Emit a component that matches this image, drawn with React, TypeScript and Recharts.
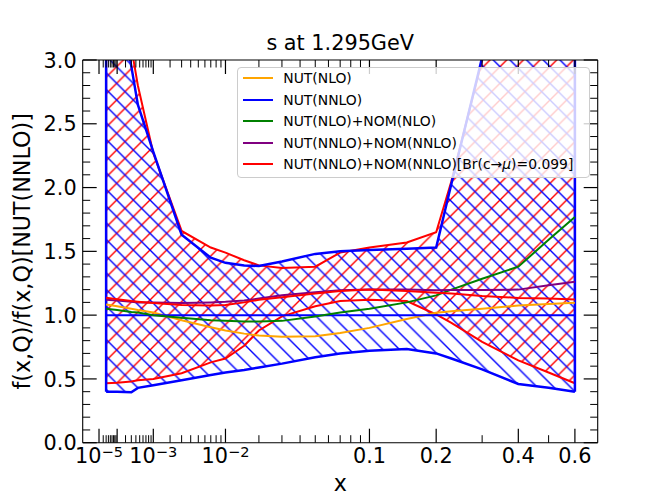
import React from 'react';
import {
  ComposedChart,
  Area,
  Line,
  XAxis,
  YAxis,
  ReferenceLine,
  Customized,
} from 'recharts';

// x grid of the PDF ratios
const X_POINTS = [3e-5, 1e-4, 3e-4, 4.5e-4, 1e-3, 3e-3, 7e-3, 0.01, 0.015, 0.02, 0.03, 0.05, 0.07, 0.1, 0.15, 0.2, 0.23, 0.3, 0.4, 0.5, 0.6];

// NUT(NNLO) uncertainty band
const NNLO_LOW = [0.4, 0.4, 0.395, 0.43, 0.45, 0.49, 0.53, 0.55, 0.57, 0.59, 0.62, 0.67, 0.7, 0.72, 0.735, 0.7, 0.66, 0.575, 0.46, 0.43, 0.4];
const NNLO_HIGH = [4.0, 3.6, 2.95, 2.65, 2.28, 1.63, 1.45, 1.41, 1.39, 1.385, 1.42, 1.48, 1.5, 1.51, 1.52, 1.53, 2.03, 3.02, 3.5, 3.5, 3.5];

// NUT(NNLO)+NOM(NNLO)[Br] uncertainty band
const BR_LOW = [0.466, 0.47, 0.48, 0.49, 0.5, 0.545, 0.63, 0.66, 0.76, 0.88, 0.99, 1.07, 1.11, 1.12, 1.11, 1.005, 0.94, 0.79, 0.645, 0.55, 0.466];
const BR_HIGH = [4.5, 4.0, 3.1, 2.8, 2.27, 1.66, 1.53, 1.49, 1.43, 1.39, 1.37, 1.38, 1.49, 1.53, 1.57, 1.65, 2.05, 3.0, 3.5, 3.5, 3.5];

// central values
const NUT_NLO = [1.083, 1.07, 1.05, 1.04, 1.02, 0.96, 0.905, 0.88, 0.855, 0.84, 0.83, 0.835, 0.86, 0.9, 0.97, 1.018, 1.03, 1.05, 1.076, 1.088, 1.097];
const NUT_NNLO = [1, 1, 1, 1, 1, 1, 1, 1, 1, 1, 1, 1, 1, 1, 1, 1, 1, 1, 1, 1, 1];
const NOM_NLO = [1.05, 1.04, 1.025, 1.02, 1.0, 0.98, 0.96, 0.955, 0.95, 0.95, 0.955, 0.99, 1.02, 1.05, 1.1, 1.155, 1.2, 1.285, 1.38, 1.59, 1.77];
const NOM_NNLO = [1.12, 1.115, 1.105, 1.1, 1.1, 1.095, 1.1, 1.105, 1.115, 1.13, 1.155, 1.18, 1.195, 1.2, 1.2, 1.196, 1.197, 1.198, 1.2, 1.234, 1.262];
const NOM_BR = [1.136, 1.125, 1.11, 1.105, 1.095, 1.08, 1.075, 1.08, 1.1, 1.12, 1.14, 1.17, 1.19, 1.2, 1.19, 1.176, 1.17, 1.15, 1.135, 1.13, 1.123];

// axis ticks
const X_MAJOR = [1e-5, 1e-4, 1e-3, 1e-2, 0.1, 0.2, 0.4, 0.6];
const X_MAJOR_LABELS = ['10^−5', '', '10^−3', '10^−2', '0.1', '0.2', '0.4', '0.6'];
const MINOR_DECADES = [1e-5, 1e-4, 1e-3, 1e-2];
const MINOR_MANTISSAS = [2, 3, 4, 5, 6, 7, 8, 9];
const X_MINOR_EXTRA = [0.3, 0.5];
const Y_MAJOR = [0, 0.5, 1, 1.5, 2, 2.5, 3];
const Y_MAJOR_LABELS = ['0.0', '0.5', '1.0', '1.5', '2.0', '2.5', '3.0'];

const SERIES = [
  { key: 'nutNlo', name: 'NUT(NLO)', color: '#ffa500', values: NUT_NLO },
  { key: 'nutNnlo', name: 'NUT(NNLO)', color: '#0000ff', values: NUT_NNLO },
  { key: 'nomNlo', name: 'NUT(NLO)+NOM(NLO)', color: '#008000', values: NOM_NLO },
  { key: 'nomNnlo', name: 'NUT(NNLO)+NOM(NNLO)', color: '#800080', values: NOM_NNLO },
  { key: 'nomBr', name: 'NUT(NNLO)+NOM(NNLO)[Br(c→μ)=0.099]', color: '#ff0000', values: NOM_BR },
];

// the x axis is drawn in x^0.3
const POWER = 0.3;
const toT = (x: number) => Math.pow(x, POWER);

const W = 664;
const H = 498;
const PLOT = { left: 82.7, right: 597.7, top: 60, bottom: 442.7 };
const T_DOMAIN = [0.0033, 0.8975];
const FONT = 'DejaVu Sans';
const TICK_FONT = 20.8;

const rows = X_POINTS.map((x, i) => {
  const row: any = {
    t: toT(x),
    nnloBand: [NNLO_LOW[i], NNLO_HIGH[i]],
    nnloLow: NNLO_LOW[i],
    nnloHigh: NNLO_HIGH[i],
    brBand: [BR_LOW[i], BR_HIGH[i]],
    brLow: BR_LOW[i],
    brHigh: BR_HIGH[i],
  };
  SERIES.forEach((s) => {
    row[s.key] = s.values[i];
  });
  return row;
});

const xTicks: { t: number; major: boolean; label: string }[] = [];
X_MAJOR.forEach((x, i) => xTicks.push({ t: toT(x), major: true, label: X_MAJOR_LABELS[i] }));
MINOR_DECADES.forEach((d) =>
  MINOR_MANTISSAS.forEach((m) => xTicks.push({ t: toT(m * d), major: false, label: '' })),
);
X_MINOR_EXTRA.forEach((x) => xTicks.push({ t: toT(x), major: false, label: '' }));

const yTicks: { v: number; major: boolean; label: string }[] = [];
for (let k = 0; k <= 30; k++) {
  const v = k / 10;
  const idx = Y_MAJOR.findIndex((m) => Math.abs(m - v) < 1e-9);
  yTicks.push({ v, major: idx >= 0, label: idx >= 0 ? Y_MAJOR_LABELS[idx] : '' });
}

const findX = (value: number) =>
  xTicks.find((d) => Math.abs(d.t - value) < 1e-9) || { t: value, major: false, label: '' };
const findY = (value: number) =>
  yTicks.find((d) => Math.abs(d.v - value) < 1e-9) || { v: value, major: false, label: '' };

const MAJOR_LEN = 14;
const MINOR_LEN = 7.5;

const XLabelText = ({ label, x, y }: { label: string; x: number; y: number }) => {
  if (!label) return null;
  if (label.includes('^')) {
    const [base, exp] = label.split('^');
    return (
      <text x={x} y={y} textAnchor="middle" fontFamily={FONT} fontSize={TICK_FONT} fill="#000">
        <tspan>{base}</tspan>
        <tspan fontSize={TICK_FONT * 0.7} dy={-6.5}>{exp}</tspan>
      </text>
    );
  }
  return (
    <text x={x} y={y} textAnchor="middle" fontFamily={FONT} fontSize={TICK_FONT} fill="#000">
      {label}
    </text>
  );
};

const BottomTick = (props: any) => {
  const { x, y, payload } = props;
  const info = findX(payload.value);
  const len = info.major ? MAJOR_LEN : MINOR_LEN;
  return (
    <g>
      <line x1={x} x2={x} y1={y} y2={y - len} stroke="#000" strokeWidth={info.major ? 1.2 : 1} />
      <XLabelText label={info.label} x={x} y={y + 20.5} />
    </g>
  );
};

const TopTick = (props: any) => {
  const { x, y, payload } = props;
  const info = findX(payload.value);
  const len = info.major ? MAJOR_LEN : MINOR_LEN;
  return <line x1={x} x2={x} y1={y} y2={y + len} stroke="#000" strokeWidth={info.major ? 1.2 : 1} />;
};

const LeftTick = (props: any) => {
  const { x, y, payload } = props;
  const info = findY(payload.value);
  const len = info.major ? MAJOR_LEN : MINOR_LEN;
  return (
    <g>
      <line x1={x} x2={x + len} y1={y} y2={y} stroke="#000" strokeWidth={info.major ? 1.2 : 1} />
      {info.label && (
        <text x={x - 6} y={y + 7.6} textAnchor="end" fontFamily={FONT} fontSize={TICK_FONT} fill="#000">
          {info.label}
        </text>
      )}
    </g>
  );
};

const RightTick = (props: any) => {
  const { x, y, payload } = props;
  const info = findY(payload.value);
  const len = info.major ? MAJOR_LEN : MINOR_LEN;
  return <line x1={x} x2={x - len} y1={y} y2={y} stroke="#000" strokeWidth={info.major ? 1.2 : 1} />;
};

const Texts = () => {
  const cx = (PLOT.left + PLOT.right) / 2;
  const cy = (PLOT.top + PLOT.bottom) / 2;
  return (
    <g fontFamily={FONT} fill="#000">
      <text x={cx} y={50} textAnchor="middle" fontSize={20.8}>s at 1.295GeV</text>
      <text x={cx} y={491} textAnchor="middle" fontSize={22.2}>x</text>
      <text x={30.5} y={cy} textAnchor="middle" fontSize={22.2} transform={`rotate(-90 30.5 ${cy})`}>
        f(x,Q)/f(x,Q)[NUT(NNLO)]
      </text>
    </g>
  );
};

const HATCH = 100 / 6;

const LegendBox = () => (
  <div
    style={{
      position: 'absolute',
      left: 237,
      top: 67,
      width: 353,
      height: 111,
      boxSizing: 'border-box',
      border: '1px solid #cccccc',
      borderRadius: 4,
      background: 'rgba(255,255,255,0.8)',
      fontFamily: FONT,
      fontSize: 13.9,
      color: '#000',
    }}
  >
    {SERIES.map((s, i) => (
      <div
        key={s.key}
        style={{
          position: 'absolute',
          left: 4.7,
          top: 10.3 + i * 21.4 - 10,
          height: 20,
          display: 'flex',
          alignItems: 'center',
          whiteSpace: 'nowrap',
        }}
      >
        <div style={{ width: 30, height: 2, background: s.color }} />
        <span style={{ marginLeft: 10.6 }}>
          {s.name.includes('μ') ? (
            <>
              {s.name.split('μ')[0]}
              <i>μ</i>
              {s.name.split('μ')[1]}
            </>
          ) : (
            s.name
          )}
        </span>
      </div>
    ))}
  </div>
);

export default function App() {
  const first = rows[0];
  const last = rows[rows.length - 1];
  return (
    <div style={{ position: 'absolute', left: 0, top: 0, width: W, height: H, background: '#fff' }}>
      <ComposedChart
        width={W}
        height={H}
        data={rows}
        margin={{ top: PLOT.top - 1, right: W - PLOT.right - 1, bottom: 0, left: 0 }}
      >
        <defs>
          <pattern id="hatchBlue" patternUnits="userSpaceOnUse" width={HATCH} height={HATCH}>
            <path
              d={`M0,0 L${HATCH},${HATCH} M${-HATCH / 4},${(HATCH * 3) / 4} L${HATCH / 4},${(HATCH * 5) / 4} M${(HATCH * 3) / 4},${-HATCH / 4} L${(HATCH * 5) / 4},${HATCH / 4}`}
              stroke="#0000ff"
              strokeWidth={1.39}
            />
          </pattern>
          <pattern id="hatchRed" patternUnits="userSpaceOnUse" width={HATCH} height={HATCH}>
            <path
              d={`M0,${HATCH} L${HATCH},0 M${-HATCH / 4},${HATCH / 4} L${HATCH / 4},${-HATCH / 4} M${(HATCH * 3) / 4},${(HATCH * 5) / 4} L${(HATCH * 5) / 4},${(HATCH * 3) / 4}`}
              stroke="#ff0000"
              strokeWidth={1.39}
            />
          </pattern>
        </defs>
        <XAxis
          xAxisId="main"
          type="number"
          dataKey="t"
          domain={T_DOMAIN}
          allowDataOverflow
          ticks={xTicks.map((d) => d.t)}
          interval={0}
          tick={<BottomTick />}
          tickLine={false}
          tickSize={0}
          tickMargin={0}
          height={H - PLOT.bottom}
          axisLine={{ stroke: '#000', strokeWidth: 1.1 }}
        />
        <XAxis
          xAxisId="mirror"
          orientation="top"
          type="number"
          dataKey="t"
          domain={T_DOMAIN}
          allowDataOverflow
          ticks={xTicks.map((d) => d.t)}
          interval={0}
          tick={<TopTick />}
          tickLine={false}
          tickSize={0}
          tickMargin={0}
          height={1}
          axisLine={{ stroke: '#000', strokeWidth: 1.1 }}
        />
        <YAxis
          yAxisId="main"
          type="number"
          domain={[0, 3]}
          allowDataOverflow
          ticks={yTicks.map((d) => d.v)}
          interval={0}
          tick={<LeftTick />}
          tickLine={false}
          tickSize={0}
          tickMargin={0}
          width={PLOT.left}
          axisLine={{ stroke: '#000', strokeWidth: 1.1 }}
        />
        <YAxis
          yAxisId="mirror"
          orientation="right"
          type="number"
          domain={[0, 3]}
          allowDataOverflow
          ticks={yTicks.map((d) => d.v)}
          interval={0}
          tick={<RightTick />}
          tickLine={false}
          tickSize={0}
          tickMargin={0}
          width={1}
          axisLine={{ stroke: '#000', strokeWidth: 1.1 }}
        />

        {/* invisible series tying the mirror axes to the data */}
        <Line xAxisId="mirror" yAxisId="mirror" type="linear" dataKey="nutNnlo" stroke="none" dot={false} activeDot={false} legendType="none" isAnimationActive={false} />

        <Area
          xAxisId="main"
          yAxisId="main"
          type="linear"
          dataKey="brBand"
          stroke="none"
          fill="url(#hatchRed)"
          fillOpacity={1}
          isAnimationActive={false}
          activeDot={false}
        />
        <Line xAxisId="main" yAxisId="main" type="linear" dataKey="brHigh" stroke="#ff0000" strokeWidth={2} dot={false} activeDot={false} isAnimationActive={false} />
        <Line xAxisId="main" yAxisId="main" type="linear" dataKey="brLow" stroke="#ff0000" strokeWidth={2} dot={false} activeDot={false} isAnimationActive={false} />
        <ReferenceLine xAxisId="main" yAxisId="main" ifOverflow="hidden" stroke="#ff0000" strokeWidth={2}
          segment={[{ x: first.t, y: first.brLow }, { x: first.t, y: first.brHigh }]} />
        <ReferenceLine xAxisId="main" yAxisId="main" ifOverflow="hidden" stroke="#ff0000" strokeWidth={2}
          segment={[{ x: last.t, y: last.brLow }, { x: last.t, y: last.brHigh }]} />

        <Area
          xAxisId="main"
          yAxisId="main"
          type="linear"
          dataKey="nnloBand"
          stroke="none"
          fill="url(#hatchBlue)"
          fillOpacity={1}
          isAnimationActive={false}
          activeDot={false}
        />
        <Line xAxisId="main" yAxisId="main" type="linear" dataKey="nnloHigh" stroke="#0000ff" strokeWidth={2.5} dot={false} activeDot={false} isAnimationActive={false} />
        <Line xAxisId="main" yAxisId="main" type="linear" dataKey="nnloLow" stroke="#0000ff" strokeWidth={2.5} dot={false} activeDot={false} isAnimationActive={false} />
        <ReferenceLine xAxisId="main" yAxisId="main" ifOverflow="hidden" stroke="#0000ff" strokeWidth={2.5}
          segment={[{ x: first.t, y: first.nnloLow }, { x: first.t, y: first.nnloHigh }]} />
        <ReferenceLine xAxisId="main" yAxisId="main" ifOverflow="hidden" stroke="#0000ff" strokeWidth={2.5}
          segment={[{ x: last.t, y: last.nnloLow }, { x: last.t, y: last.nnloHigh }]} />

        {SERIES.map((s) => (
          <Line
            key={s.key}
            xAxisId="main"
            yAxisId="main"
            type="linear"
            dataKey={s.key}
            stroke={s.color}
            strokeWidth={2}
            dot={false}
            activeDot={false}
            isAnimationActive={false}
          />
        ))}
        <Customized component={Texts} />
      </ComposedChart>
      <LegendBox />
    </div>
  );
}
